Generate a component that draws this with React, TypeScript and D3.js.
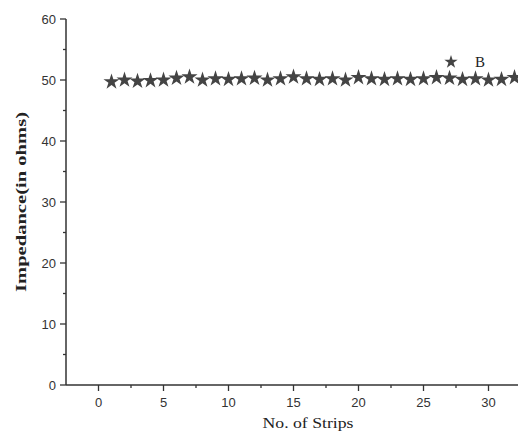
import React, { useEffect, useRef } from 'react';
import * as d3 from 'd3';

// impedance of each strip
const strips = [1, 2, 3, 4, 5, 6, 7, 8, 9, 10, 11, 12, 13, 14, 15, 16, 17, 18, 19, 20, 21, 22, 23, 24, 25, 26, 27, 28, 29, 30, 31, 32];
const impedance = [49.7, 50.0, 49.8, 49.9, 50.0, 50.3, 50.5, 50.0, 50.2, 50.1, 50.2, 50.3, 50.0, 50.2, 50.5, 50.2, 50.1, 50.2, 50.0, 50.4, 50.2, 50.1, 50.2, 50.1, 50.2, 50.4, 50.3, 50.1, 50.2, 50.0, 50.1, 50.4];
const xTicks = [0, 5, 10, 15, 20, 25, 30];
const xMinor = [2.5, 7.5, 12.5, 17.5, 22.5, 27.5];
const yTicks = [0, 10, 20, 30, 40, 50, 60];
const yMinor = [5, 15, 25, 35, 45, 55];
const seriesName = 'B';

const App = () => {
  const svgRef = useRef<SVGSVGElement>(null);
  const width = 518;
  const height = 437;

  useEffect(() => {
    const svg = d3.select(svgRef.current);
    svg.selectAll('*').remove();

    const left = 66;
    const top = 19;
    const bottom = 385;

    const x = d3.scaleLinear().domain([-2.5, 32.5]).range([left, left + 35 * 13]);
    const y = d3.scaleLinear().domain([0, 60]).range([bottom, top]);
    const axisColor = '#333';

    // axes lines
    svg.append('line')
      .attr('x1', left).attr('x2', width + 5)
      .attr('y1', bottom).attr('y2', bottom)
      .attr('stroke', axisColor).attr('stroke-width', 1.5);
    svg.append('line')
      .attr('x1', left).attr('x2', left)
      .attr('y1', top).attr('y2', bottom)
      .attr('stroke', axisColor).attr('stroke-width', 1.5);

    // x ticks
    svg.selectAll('.xt').data(xTicks).join('line')
      .attr('x1', d => x(d)).attr('x2', d => x(d))
      .attr('y1', bottom).attr('y2', bottom + 6)
      .attr('stroke', axisColor).attr('stroke-width', 1.3);
    svg.selectAll('.xm').data(xMinor).join('line')
      .attr('x1', d => x(d)).attr('x2', d => x(d))
      .attr('y1', bottom).attr('y2', bottom + 3)
      .attr('stroke', axisColor).attr('stroke-width', 1.3);
    svg.selectAll('.xl').data(xTicks).join('text')
      .attr('x', d => x(d)).attr('y', bottom + 22)
      .attr('text-anchor', 'middle')
      .attr('font-family', 'Liberation Sans, Arial, sans-serif')
      .attr('font-size', 13).attr('fill', '#333')
      .text(d => d);

    // y ticks
    svg.selectAll('.yt').data(yTicks).join('line')
      .attr('x1', left - 6).attr('x2', left)
      .attr('y1', d => y(d)).attr('y2', d => y(d))
      .attr('stroke', axisColor).attr('stroke-width', 1.3);
    svg.selectAll('.ym').data(yMinor).join('line')
      .attr('x1', left - 3).attr('x2', left)
      .attr('y1', d => y(d)).attr('y2', d => y(d))
      .attr('stroke', axisColor).attr('stroke-width', 1.3);
    svg.selectAll('.yl').data(yTicks).join('text')
      .attr('x', left - 10).attr('y', d => y(d) + 4.5)
      .attr('text-anchor', 'end')
      .attr('font-family', 'Liberation Sans, Arial, sans-serif')
      .attr('font-size', 13).attr('fill', '#333')
      .text(d => d);

    // axis titles
    svg.append('text')
      .attr('transform', 'translate(26, 202) rotate(-90)')
      .attr('text-anchor', 'middle')
      .attr('font-family', 'Liberation Serif, Times New Roman, serif')
      .attr('font-weight', 'bold').attr('font-size', 15).attr('fill', '#222')
      .attr('textLength', 180).attr('lengthAdjust', 'spacingAndGlyphs')
      .text('Impedance(in ohms)');
    svg.append('text')
      .attr('x', 308).attr('y', 428)
      .attr('text-anchor', 'middle')
      .attr('font-family', 'Liberation Serif, Times New Roman, serif')
      .attr('font-size', 15).attr('fill', '#222')
      .attr('textLength', 91).attr('lengthAdjust', 'spacingAndGlyphs')
      .text('No. of Strips');

    // stars
    const star = d3.symbol().type(d3.symbolStar).size(80);
    svg.selectAll('.pt').data(strips).join('path')
      .attr('d', star)
      .attr('transform', (d, i) => `translate(${x(d)}, ${y(impedance[i])})`)
      .attr('fill', '#444');

    // legend
    svg.append('path')
      .attr('d', d3.symbol().type(d3.symbolStar).size(55))
      .attr('transform', 'translate(451, 62)')
      .attr('fill', '#444');
    svg.append('text')
      .attr('x', 475).attr('y', 67)
      .attr('font-family', 'Liberation Serif, Times New Roman, serif')
      .attr('font-size', 15).attr('fill', '#222')
      .text(seriesName);
  }, []);

  return (
    <svg
      ref={svgRef}
      width={width}
      height={height}
      style={{ position: 'absolute', left: 0, top: 0, background: '#fff' }}
    ></svg>
  );
};

export default App;
